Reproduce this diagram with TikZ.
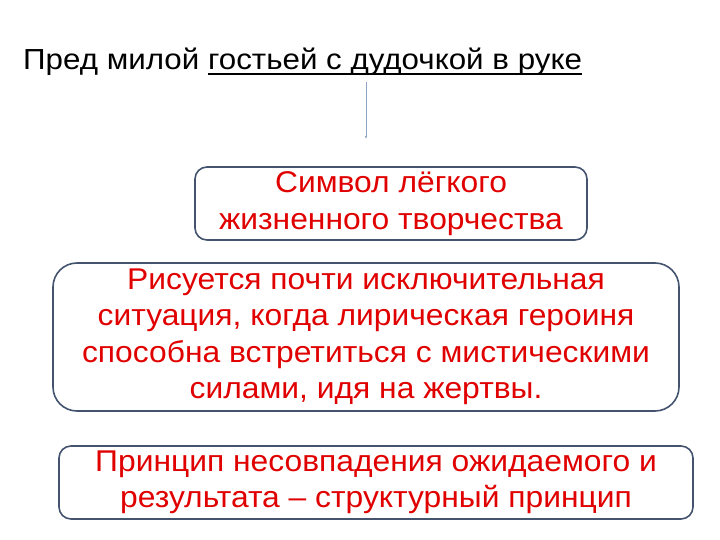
\documentclass[tikz,border=0pt]{standalone}
\usepackage{fontspec}
\setmainfont{Liberation Sans}
\newfontfamily\boxfont[FakeStretch=1.06]{Liberation Sans}
\newfontfamily\titlefont[FakeStretch=1.08]{Liberation Sans}
\usetikzlibrary{arrows.meta}
\definecolor{boxline}{HTML}{44546F}
\definecolor{boxtext}{HTML}{E00000}
\definecolor{arrowline}{HTML}{8FA5C4}
\newcommand\titleline[1]{\setbox0\hbox{#1}\rlap{\rule[-5pt]{\wd0}{1.5pt}}\box0}
\tikzset{
  idea/.style={draw=boxline, line width=1.6pt, fill=white, text=boxtext,
    align=center, inner sep=0pt, font=\boxfont\fontsize{30}{36.5}\selectfont,
    execute at begin node=\rule{0pt}{32pt}},
}
\begin{document}
\begin{tikzpicture}[x=1pt, y=-1pt]
\useasboundingbox (0,0) rectangle (720,540);

\node (title) at (23,70) [anchor=base west, inner sep=0pt, font=\titlefont\fontsize{29}{30}\selectfont]
  {Пред милой \titleline{гостьей с дудочкой в руке}};
\coordinate (tip) at (366,139);

\node (symbol) at (391,203.5) [idea, rounded corners=12pt, minimum width=392pt, minimum height=73pt]
  {Символ лёгкого\\жизненного творчества};
\node (situation) at (366,337) [idea, rounded corners=24pt, minimum width=626pt, minimum height=148pt]
  {Рисуется почти исключительная\\ситуация, когда лирическая героиня\\способна встретиться с мистическими\\силами, идя на жертвы.};
\node (principle) at (376,482.5) [idea, rounded corners=12pt, minimum width=634pt, minimum height=73pt]
  {Принцип несовпадения ожидаемого и\\результата – структурный принцип};

\draw [arrowline, line width=0.8pt, -{Latex[length=3pt, width=2.5pt]}] (tip |- 0,82) -- (tip);
\end{tikzpicture}
\end{document}
